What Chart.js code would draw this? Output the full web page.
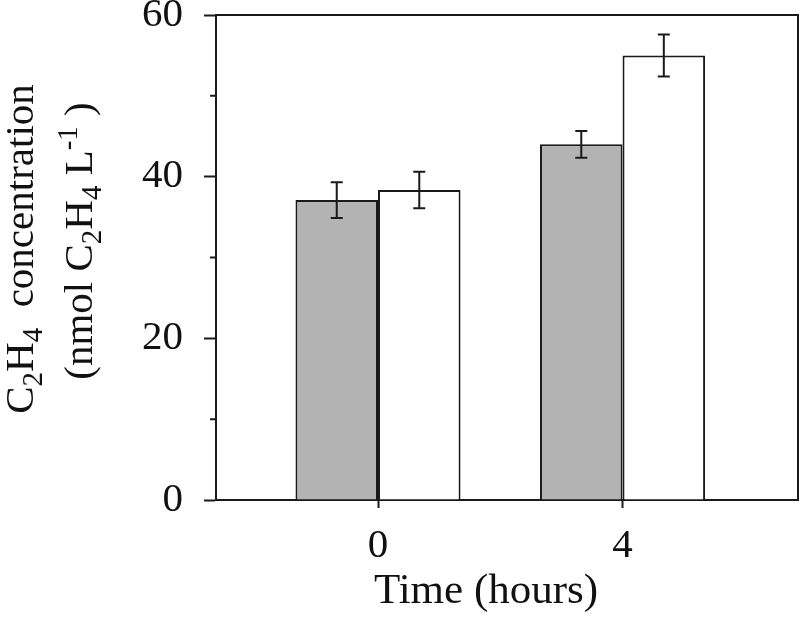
<!DOCTYPE html>
<html>
<head>
<meta charset="utf-8">
<script src="https://cdn.jsdelivr.net/npm/chart.js@4.4.0/dist/chart.umd.min.js"></script>
<style>
  html, body { margin: 0; padding: 0; background: #fff; }
  canvas { display: block; }
</style>
</head>
<body>
<canvas id="chart" width="800" height="619"></canvas>
<script>
// data
var timeHours   = [0, 4];
var grayValues  = [37.1, 44.0];
var grayErrors  = [2.2, 1.65];
var whiteValues = [38.35, 55.0];
var whiteErrors = [2.25, 2.6];
var yTicks      = [0, 20, 40, 60];
var yMinorTicks = [10, 30, 50];

var SERIF = '"Liberation Serif", serif';
var INK = '#1a1a1a';
var LW = 2;

function points(values) {
  return timeHours.map(function(t, i) { return { x: t, y: values[i] }; });
}

// draws text with sub/superscript pieces, centred on x=0, baseline y=0
function drawRich(ctx, parts, size) {
  var small = Math.round(size * 0.7);
  var total = 0;
  parts.forEach(function(p) {
    ctx.font = (p.s ? small : size) + 'px ' + SERIF;
    p.w = ctx.measureText(p.t).width;
    total += p.w;
  });
  var x = -total / 2;
  ctx.textAlign = 'left';
  ctx.textBaseline = 'alphabetic';
  parts.forEach(function(p) {
    ctx.font = (p.s ? small : size) + 'px ' + SERIF;
    var dy = p.s === 'sub' ? 9 : (p.s === 'sup' ? -15 : 0);
    ctx.fillText(p.t, x, dy);
    x += p.w;
  });
}

var framePlugin = {
  id: 'frame',
  afterDatasetsDraw: function(chart) {
    var ctx = chart.ctx, a = chart.chartArea;
    var y = chart.scales.y;
    ctx.save();
    ctx.strokeStyle = INK;
    ctx.lineWidth = LW;

    // error bars
    chart.data.datasets.forEach(function(ds, di) {
      var meta = chart.getDatasetMeta(di);
      meta.data.forEach(function(bar, i) {
        var v = ds.data[i].y, e = ds.errors[i];
        var top = y.getPixelForValue(v + e), bot = y.getPixelForValue(v - e);
        ctx.beginPath();
        ctx.moveTo(bar.x, top); ctx.lineTo(bar.x, bot);
        ctx.moveTo(bar.x - 6, top); ctx.lineTo(bar.x + 6, top);
        ctx.moveTo(bar.x - 6, bot); ctx.lineTo(bar.x + 6, bot);
        ctx.stroke();
      });
    });

    // top and right border
    ctx.beginPath();
    ctx.moveTo(a.left, a.top); ctx.lineTo(a.right, a.top); ctx.lineTo(a.right, a.bottom);
    ctx.stroke();

    // minor y ticks
    ctx.beginPath();
    yMinorTicks.forEach(function(v) {
      var py = y.getPixelForValue(v);
      ctx.moveTo(a.left - 6, py); ctx.lineTo(a.left, py);
    });
    ctx.stroke();
    ctx.restore();
  },
  afterDraw: function(chart) {
    var ctx = chart.ctx;
    ctx.save();
    ctx.fillStyle = '#111';

    ctx.save();
    ctx.translate(486, 603);
    drawRich(ctx, [{ t: 'Time (hours)' }], 43);
    ctx.restore();

    ctx.save();
    ctx.translate(33, 249);
    ctx.rotate(-Math.PI / 2);
    drawRich(ctx, [
      { t: 'C' }, { t: '2', s: 'sub' }, { t: 'H' }, { t: '4', s: 'sub' }, { t: '  concentration' }
    ], 41);
    ctx.restore();

    ctx.save();
    ctx.translate(92, 241);
    ctx.rotate(-Math.PI / 2);
    drawRich(ctx, [
      { t: '(nmol C' }, { t: '2', s: 'sub' }, { t: 'H' }, { t: '4', s: 'sub' },
      { t: ' L' }, { t: '-1', s: 'sup' }, { t: ' )' }
    ], 41);
    ctx.restore();

    ctx.restore();
  }
};

var whiteBg = {
  id: 'whiteBg',
  beforeDraw: function(chart) {
    var ctx = chart.ctx;
    ctx.save();
    ctx.fillStyle = '#fff';
    ctx.fillRect(0, 0, chart.width, chart.height);
    ctx.restore();
  }
};

function buildChart() {
  new Chart(document.getElementById('chart'), {
    type: 'bar',
    data: {
      datasets: [
        {
          data: points(grayValues),
          errors: grayErrors,
          backgroundColor: '#b3b3b3',
          borderColor: INK,
          borderWidth: LW,
          categoryPercentage: 0.675,
          barPercentage: 1
        },
        {
          data: points(whiteValues),
          errors: whiteErrors,
          backgroundColor: '#fff',
          borderColor: INK,
          borderWidth: LW,
          categoryPercentage: 0.675,
          barPercentage: 1
        }
      ]
    },
    options: {
      responsive: false,
      animation: false,
      layout: { padding: { top: 15, right: 2, left: 0, bottom: 0 } },
      plugins: { legend: { display: false }, tooltip: { enabled: false } },
      scales: {
        x: {
          type: 'linear',
          offset: false,
          min: -2.65,
          max: 6.87,
          afterBuildTicks: function(s) { s.ticks = timeHours.map(function(v) { return { value: v }; }); },
          afterFit: function(s) { s.height = 119; s.paddingLeft = 0; s.paddingRight = 0; },
          border: { display: true, color: INK, width: LW },
          grid: { offset: false, drawOnChartArea: false, drawTicks: true, tickLength: 8, color: INK, tickColor: INK, tickWidth: LW },
          ticks: { color: '#111', font: { family: SERIF, size: 41 }, padding: 14, maxRotation: 0 }
        },
        y: {
          min: 0,
          max: 60,
          afterBuildTicks: function(s) { s.ticks = yTicks.map(function(v) { return { value: v }; }); },
          afterFit: function(s) { s.width = 216; s.paddingTop = 0; s.paddingBottom = 0; },
          border: { display: true, color: INK, width: LW },
          grid: { drawOnChartArea: false, drawTicks: true, tickLength: 12, color: INK, tickColor: INK, tickWidth: LW },
          ticks: { color: '#111', font: { family: SERIF, size: 41 }, padding: 21 }
        }
      }
    },
    plugins: [whiteBg, framePlugin]
  });
}

if (document.fonts && document.fonts.load) {
  Promise.all([
    document.fonts.load('41px "Liberation Serif"'),
    document.fonts.load('29px "Liberation Serif"')
  ]).then(buildChart, buildChart);
} else {
  buildChart();
}
</script>
</body>
</html>
